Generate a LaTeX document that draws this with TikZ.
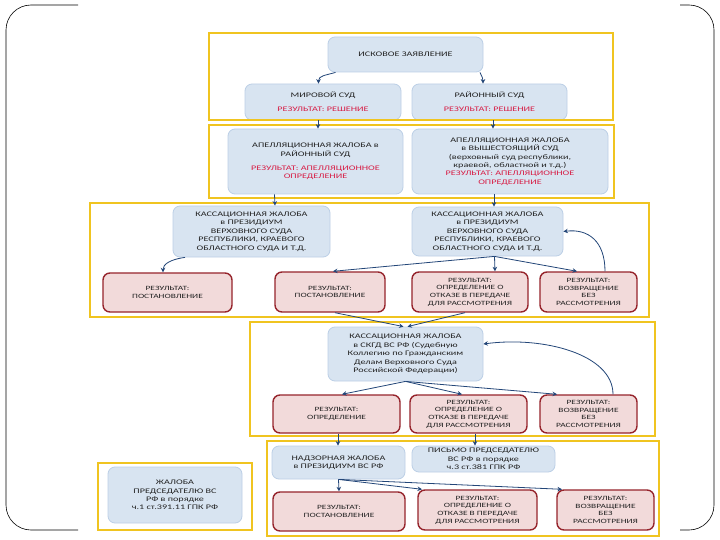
\documentclass[tikz,border=0pt]{standalone}
\usepackage{fontspec}
\setmainfont{Carlito}[FakeStretch=1.45]
\usetikzlibrary{calc,arrows.meta}
\definecolor{frameY}{RGB}{240,196,32}
\definecolor{blueF}{RGB}{216,228,241}
\definecolor{blueD}{RGB}{188,207,230}
\definecolor{pinkF}{RGB}{242,218,218}
\definecolor{pinkD}{RGB}{150,36,44}
\definecolor{resR}{RGB}{215,30,70}
\definecolor{arrC}{RGB}{35,70,120}
\definecolor{txtC}{RGB}{35,35,35}
\newcommand\bx[7]{\node[#2, minimum width=#5-#3, minimum height=#6-#4] (#1) at ({(#3+#5)/2},{(#4+#6)/2}) {#7};}
\newcommand\rs[1]{\textcolor{resR}{#1}}
\begin{document}
\begin{tikzpicture}[x=1pt,y=-1pt,
 grpframe/.style={draw=frameY, line width=2.6pt},
 bluebox/.style={draw=blueD, fill=blueF, rounded corners=7pt, line width=0.8pt, align=center, inner sep=1pt, font=\fontsize{7}{8.4}\selectfont, text=txtC},
 pinkbox/.style={draw=pinkD, fill=pinkF, rounded corners=7pt, line width=1.4pt, align=center, inner sep=1pt, font=\fontsize{6.5}{7.7}\selectfont, text=txtC},
 arr/.style={draw=arrC, line width=0.8pt, -{Stealth[length=4.5pt,width=4.5pt]}},
 bracket/.style={draw=black, line width=0.6pt, rounded corners=25pt}]
\fill[white] (0,0) rectangle (720,540);
\useasboundingbox (0,0) rectangle (720,540);
% slide bracket frame
\draw[bracket] (78,5) -- (6,5) -- (6,530) -- (78,530);
\draw[bracket] (680,5) -- (714,5) -- (714,530) -- (680,530);
% level 1
\bx{A}{bluebox}{328}{37}{483}{72}{ИСКОВОЕ ЗАЯВЛЕНИЕ}
\bx{B}{bluebox}{245}{84}{401}{120}{МИРОВОЙ СУД\\[6pt]\rs{РЕЗУЛЬТАТ: РЕШЕНИЕ}}
\bx{C}{bluebox}{412}{84}{567}{120}{РАЙОННЫЙ СУД\\[6pt]\rs{РЕЗУЛЬТАТ: РЕШЕНИЕ}}
% level 2
\bx{D}{bluebox}{228}{129}{403}{194}{АПЕЛЛЯЦИОННАЯ ЖАЛОБА в\\РАЙОННЫЙ СУД\\[6pt]\rs{РЕЗУЛЬТАТ: АПЕЛЛЯЦИОННОЕ}\\\rs{ОПРЕДЕЛЕНИЕ}}
\bx{E}{bluebox}{412}{129}{608}{194}{АПЕЛЛЯЦИОННАЯ ЖАЛОБА\\в ВЫШЕСТОЯЩИЙ СУД\\(верховный суд республики,\\краевой, областной и т.д.)\\\rs{РЕЗУЛЬТАТ: АПЕЛЛЯЦИОННОЕ}\\\rs{ОПРЕДЕЛЕНИЕ}}
% level 3
\bx{F}{bluebox}{173}{206}{330}{257}{КАССАЦИОННАЯ ЖАЛОБА\\в ПРЕЗИДИУМ\\ВЕРХОВНОГО СУДА\\РЕСПУБЛИКИ, КРАЕВОГО\\ОБЛАСТНОГО СУДА И Т.Д.}
\bx{I}{bluebox}{412}{207}{563}{256}{КАССАЦИОННАЯ ЖАЛОБА\\в ПРЕЗИДИУМ\\ВЕРХОВНОГО СУДА\\РЕСПУБЛИКИ, КРАЕВОГО\\ОБЛАСТНОГО СУДА И Т.Д.}
\bx{G}{pinkbox}{103}{273}{232}{312}{РЕЗУЛЬТАТ:\\ПОСТАНОВЛЕНИЕ}
\bx{H}{pinkbox}{275}{272}{385}{312}{РЕЗУЛЬТАТ:\\ПОСТАНОВЛЕНИЕ}
\bx{J}{pinkbox}{412}{272}{528}{312}{РЕЗУЛЬТАТ:\\ОПРЕДЕЛЕНИЕ О\\ОТКАЗЕ В ПЕРЕДАЧЕ\\ДЛЯ РАССМОТРЕНИЯ}
\bx{K}{pinkbox}{540}{272}{637}{312}{РЕЗУЛЬТАТ:\\ВОЗВРАЩЕНИЕ\\БЕЗ\\РАССМОТРЕНИЯ}
% level 4
\bx{L}{bluebox}{328}{327}{483}{381}{КАССАЦИОННАЯ ЖАЛОБА\\в СКГД ВС РФ (Судебную\\Коллегию по Гражданским\\Делам Верховного Суда\\Российской Федерации)}
\bx{M}{pinkbox}{273}{395}{400}{433}{РЕЗУЛЬТАТ:\\ОПРЕДЕЛЕНИЕ}
\bx{N}{pinkbox}{410}{395}{527}{433}{РЕЗУЛЬТАТ:\\ОПРЕДЕЛЕНИЕ О\\ОТКАЗЕ В ПЕРЕДАЧЕ\\ДЛЯ РАССМОТРЕНИЯ}
\bx{O}{pinkbox}{540}{395}{637}{433}{РЕЗУЛЬТАТ:\\ВОЗВРАЩЕНИЕ\\БЕЗ\\РАССМОТРЕНИЯ}
% level 5
\bx{P}{bluebox}{272}{446}{405}{479}{НАДЗОРНАЯ ЖАЛОБА\\в ПРЕЗИДИУМ ВС РФ}
\bx{Q}{bluebox}{412}{446}{555}{472}{ПИСЬМО ПРЕДСЕДАТЕЛЮ\\ВС РФ в порядке\\ч.3 ст.381 ГПК РФ}
\bx{R}{pinkbox}{273}{492}{405}{531}{РЕЗУЛЬТАТ:\\ПОСТАНОВЛЕНИЕ}
\bx{S}{pinkbox}{418}{490}{537}{530}{РЕЗУЛЬТАТ:\\ОПРЕДЕЛЕНИЕ О\\ОТКАЗЕ В ПЕРЕДАЧЕ\\ДЛЯ РАССМОТРЕНИЯ}
\bx{T}{pinkbox}{557}{490}{654}{530}{РЕЗУЛЬТАТ:\\ВОЗВРАЩЕНИЕ\\БЕЗ\\РАССМОТРЕНИЯ}
\bx{U}{bluebox}{108}{467}{242}{523}{ЖАЛОБА\\ПРЕДСЕДАТЕЛЮ ВС\\РФ в порядке\\ч.1 ст.391.11 ГПК РФ}
% group frames
\draw[grpframe] (209,33) rectangle (613,120);
\draw[grpframe] (209,125) rectangle (614,198);
\draw[grpframe] (90,203) rectangle (649,317);
\draw[grpframe] (250,322) rectangle (655,436);
\draw[grpframe] (267,441) rectangle (659,536);
\draw[grpframe] (98,463) rectangle (252,530);
% connectors
\draw[arr] ([xshift=-70pt]A.south) .. controls +(-10,3) and +(0,-8) .. ([xshift=-4.5pt]B.north);
\draw[arr] ([xshift=74.5pt]A.south) .. controls +(2,5) and +(0,-6) .. ([xshift=-6.5pt]C.north);
\draw[arr] ([xshift=-5pt]B.south) -- ([xshift=2.5pt]D.north);
\draw[arr] ([xshift=3.5pt]C.south) -- ([xshift=-17pt]E.north);
\draw[arr] ([xshift=-41pt]D.south) -- ([xshift=23.5pt]F.north);
\draw[arr] ([xshift=-16pt]E.south) -- ([xshift=6.5pt]I.north);
\draw[arr] ([xshift=-66.5pt]F.south) .. controls +(-15,2) and +(0,-8) .. ([xshift=-4.5pt]G.north);
\coordinate (iF) at ([xshift=7pt]I.south);
\draw[arr] (iF) -- ([xshift=3pt]H.north);
\draw[arr] (iF) -- ([xshift=25pt]J.north);
\draw[arr] (iF) -- ([xshift=-11.5pt]K.north);
\draw[arr] ([xshift=16.5pt]K.north) .. controls +(0,-30) and +(25,-3) .. (I.east);
\draw[arr] ([xshift=5pt]H.south) -- ([xshift=-2pt]L.north);
\draw[arr] ([xshift=-5pt]J.south) -- ([xshift=2pt]L.north);
\coordinate (lF) at (L.south);
\draw[arr] (lF) -- ([xshift=5.5pt]M.north);
\draw[arr] (lF) -- ([xshift=-6.5pt]N.north);
\draw[arr] (lF) -- ([xshift=-31.5pt]O.north);
\draw[arr] ([xshift=24.5pt]O.north) .. controls +(0,-40) and +(60,-8) .. ([yshift=10pt]L.east);
\draw[arr] ([xshift=1.5pt]M.south) -- ([xshift=-0.5pt]P.north);
\draw[arr] ([xshift=6.5pt]N.south) -- ([xshift=-8.5pt]Q.north);
\coordinate (pF) at (P.south);
\draw[arr] (pF) -- (R.north);
\draw[arr] (pF) -- ([xshift=-55.5pt]S.north);
\draw[arr] (pF) -- ([xshift=-43.5pt]T.north);
\end{tikzpicture}
\end{document}
